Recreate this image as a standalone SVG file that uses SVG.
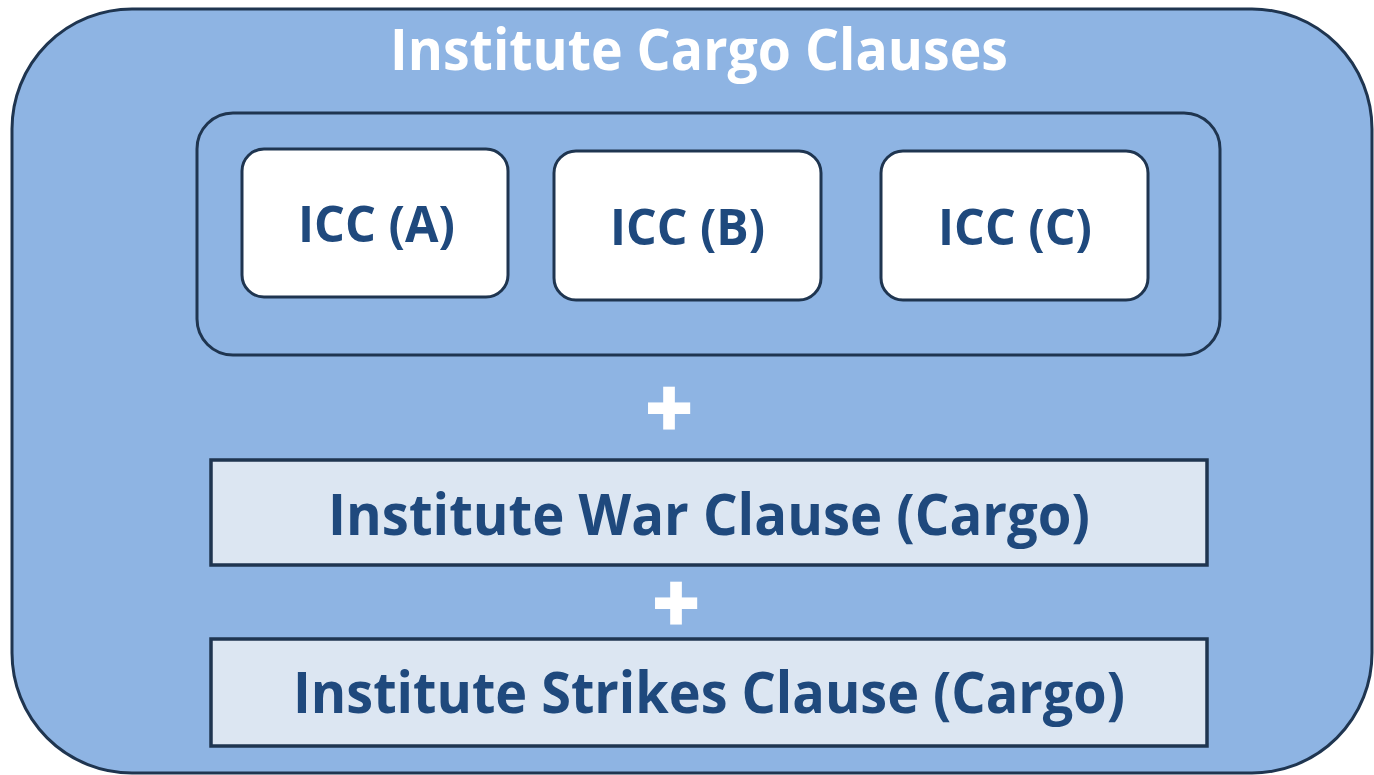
<svg xmlns="http://www.w3.org/2000/svg" width="1374" height="775" viewBox="0 0 1374 775">
  <style>
    .frame { fill: #8eb4e3; stroke: #1f3550; stroke-width: 3; }
    .card { fill: #ffffff; stroke: #1f3550; stroke-width: 3; }
    .band { fill: #dce6f2; stroke: #1f3550; stroke-width: 3.5; }
    .lbl { font-family: "Open Sans", "Liberation Sans", sans-serif; font-weight: 700; fill: #1f497d; text-anchor: middle; }
    .white { fill: #ffffff; }
    .plus { font-family: "Liberation Sans", Arial, sans-serif; font-weight: 700; fill: #ffffff; stroke: #ffffff; stroke-width: 3; text-anchor: middle; }
  </style>

  <!-- outer container -->
  <g id="institute-cargo-clauses">
    <rect class="frame" x="12" y="9" width="1360" height="764" rx="120" ry="120"/>
    <text class="lbl white" x="699" y="70" font-size="58" textLength="618" lengthAdjust="spacingAndGlyphs">Institute Cargo Clauses</text>
  </g>

  <!-- group of the three ICC variants -->
  <g id="icc-group">
    <rect class="frame" x="197" y="113" width="1023" height="242" rx="36" ry="36"/>
  </g>

  <g id="icc-a">
    <rect class="card" x="242" y="149" width="266" height="148" rx="22" ry="22"/>
    <text class="lbl" x="376.5" y="242" font-size="51" textLength="157" lengthAdjust="spacingAndGlyphs">ICC (A)</text>
  </g>

  <g id="icc-b">
    <rect class="card" x="554" y="151" width="267" height="149" rx="22" ry="22"/>
    <text class="lbl" x="687.5" y="245" font-size="51" textLength="155" lengthAdjust="spacingAndGlyphs">ICC (B)</text>
  </g>

  <g id="icc-c">
    <rect class="card" x="881" y="151" width="267" height="149" rx="22" ry="22"/>
    <text class="lbl" x="1015" y="245" font-size="51" textLength="154" lengthAdjust="spacingAndGlyphs">ICC (C)</text>
  </g>

  <g id="war-clause">
    <rect class="band" x="211" y="460" width="996" height="105"/>
    <text class="lbl" x="709" y="535" font-size="58" textLength="762" lengthAdjust="spacingAndGlyphs">Institute War Clause (Cargo)</text>
  </g>

  <g id="strikes-clause">
    <rect class="band" x="211" y="639" width="996" height="107"/>
    <text class="lbl" x="709" y="713" font-size="58" textLength="832" lengthAdjust="spacingAndGlyphs">Institute Strikes Clause (Cargo)</text>
  </g>

  <!-- joining symbols -->
  <g id="connectors">
    <text class="plus" x="669" y="434" font-size="78">+</text>
    <text class="plus" x="676" y="629" font-size="78">+</text>
  </g>
</svg>
